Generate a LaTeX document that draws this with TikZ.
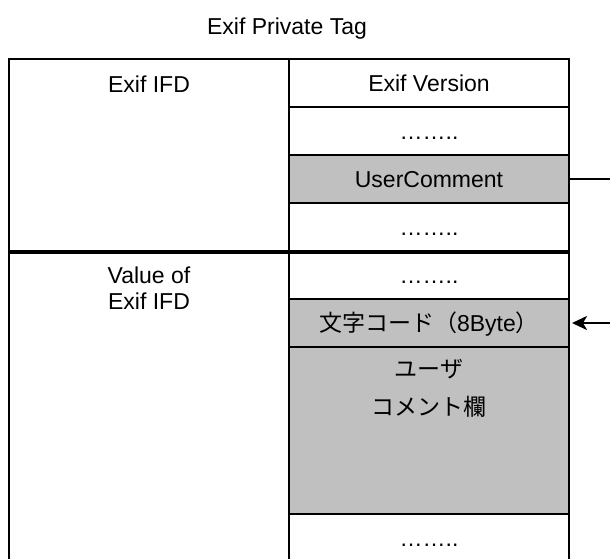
\documentclass[tikz,border=0pt]{standalone}
\usepackage{fontspec}
\setmainfont{Liberation Sans}
\newfontfamily\jp{Noto Sans CJK JP}
\usetikzlibrary{arrows.meta}
\definecolor{cellgray}{HTML}{C0C0C0}
\begin{document}
\begin{tikzpicture}[x=1pt,y=-1pt,
  every node/.style={font=\fontsize{23}{26}\selectfont},
  cell/.style={draw, line width=2pt, minimum width=280pt, minimum height=48pt,
    inner sep=0pt, text height=16.5pt, text depth=0pt},
  graycell/.style={cell, fill=cellgray},
  lbl/.style={inner sep=0pt, anchor=base, align=center},
  colbox/.style={draw, line width=2pt, minimum width=280pt, inner sep=0pt},
  sepline/.style={line width=3.5pt},
  link/.style={line width=2.5pt}]
\clip (0,0) rectangle (610,558);
\fill[white] (0,0) rectangle (610,558);

% left column boxes
\node[colbox, minimum height=192pt] (ifd) at (149,155) {};
\node[colbox, minimum height=311pt] (val) at (149,406.5) {};
\node[lbl] (ifdlbl) at (149,92) {Exif IFD};
\node[lbl] (vallbl) at (149,309) {Value of\\Exif IFD};

% right column cells
\node[cell] (ver) at (429,83) {Exif Version};
\node[cell] (d1) at (429,131) {……..};
\node[graycell] (uc) at (429,179) {UserComment};
\node[cell] (d2) at (429,227) {……..};
\node[cell] (d3) at (429,275) {……..};
\node[graycell] (code) at (429,323) {{\jp 文字コード（}8Byte{\jp ）}};
\node[graycell, minimum height=167pt] (ucf) at (429,430.5) {};
\node[lbl, font=\fontsize{23}{38}\selectfont\jp] (ucflbl) at (429,415) {ユーザ\\コメント欄};
\node[cell] (d4) at (429,538) {……..};

% separator between IFD and its value
\draw[sepline] (ifd.south west) -- (d2.south east);

% title
\node[lbl] (title) at (287,34) {Exif Private Tag};

% connectors
\coordinate (outR) at (610,179);
\coordinate (inR) at (610,323);
\draw[link] (uc.east) -- (outR);
\draw[link, -{Stealth[length=15pt,width=14pt,inset=4pt]}, shorten >=2pt] (inR) -- (code.east);
\end{tikzpicture}
\end{document}
